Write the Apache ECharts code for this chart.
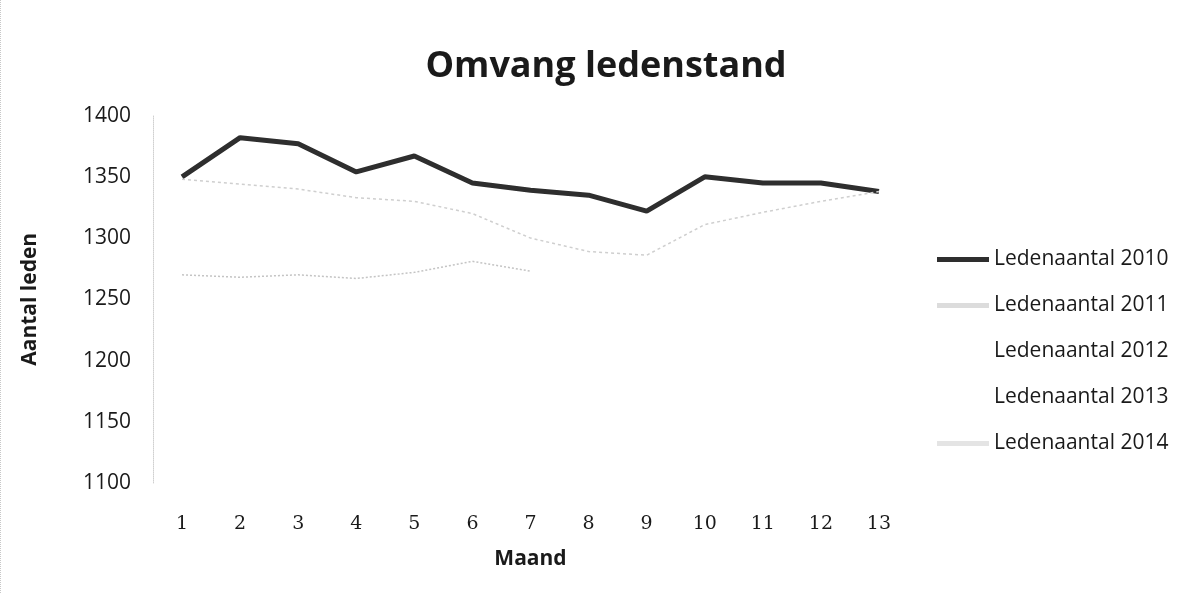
<!DOCTYPE html>
<html>
<head>
<meta charset="utf-8">
<script src="https://cdn.jsdelivr.net/npm/echarts@6/dist/echarts.min.js"></script>
<style>
html,body{margin:0;padding:0;background:#fff;}
#c{width:1202px;height:593px;box-sizing:border-box;border-left:1px dotted #c8c8c8;}
</style>
</head>
<body>
<div id="c"></div>
<script>
var months = ['1','2','3','4','5','6','7','8','9','10','11','12','13'];
var seriesNames = ['Ledenaantal 2010','Ledenaantal 2011','Ledenaantal 2012','Ledenaantal 2013','Ledenaantal 2014'];
var leden2010 = [1350,1382,1377,1354,1367,1345,1339,1335,1322,1350,1345,1345,1338];
var leden2011 = [1348,1344,1340,1333,1330,1320,1300,1289,1286,1311,1321,1330,1338];
var leden2012 = [];
var leden2013 = [];
var leden2014 = [1270,1268,1270,1267,1272,1281,1273];
var yTicks = [1100,1150,1200,1250,1300,1350,1400];

var FONT = '"Open Sans", "DejaVu Sans", sans-serif';
var chart = echarts.init(document.getElementById('c'), null, {renderer:'canvas'});
chart.setOption({
  animation:false,
  backgroundColor:'#ffffff',
  title:{
    text:'Omvang ledenstand', left:600, top:44, textAlign:'center',
    textStyle:{fontFamily:FONT, fontSize:36, fontWeight:'bold', color:'#1a1a1a'}
  },
  grid:{left:152, right:294, top:115.6, bottom:110, containLabel:false},
  legend:{
    orient:'vertical', left:931, top:244, itemWidth:52, itemHeight:5, itemGap:25,
    icon:'rect',
    data:seriesNames,
    textStyle:{fontFamily:FONT, fontSize:21, color:'#1a1a1a'}
  },
  xAxis:{
    type:'category', data:months, boundaryGap:true,
    axisLine:{show:false}, axisTick:{show:false},
    axisLabel:{fontFamily:'"DejaVu Serif", serif', fontSize:19, color:'#1a1a1a', margin:32},
    name:'Maand', nameLocation:'middle', nameGap:66,
    nameTextStyle:{fontFamily:FONT, fontSize:21, fontWeight:'bold', color:'#1a1a1a'}
  },
  yAxis:{
    type:'value', min:yTicks[0], max:yTicks[yTicks.length-1], interval:50,
    axisLine:{show:true, lineStyle:{color:'#d0d0d0', type:'dotted', width:1}},
    axisTick:{show:false}, splitLine:{show:false},
    axisLabel:{fontFamily:FONT, fontSize:21, color:'#1a1a1a', margin:22,
      formatter:function(v){return String(v);}},
    name:'Aantal leden', nameLocation:'middle', nameGap:112, nameRotate:90,
    nameTextStyle:{fontFamily:FONT, fontSize:21, fontWeight:'bold', color:'#1a1a1a'}
  },
  series:[
    {name:seriesNames[0], type:'line', data:leden2010, symbol:'none',
     lineStyle:{color:'#2e2e2e', width:5}, itemStyle:{color:'#2e2e2e'}},
    {name:seriesNames[1], type:'line', data:leden2011, symbol:'none',
     lineStyle:{color:'#cfcfcf', width:1.5, type:[3,3]}, itemStyle:{color:'#dcdcdc'}},
    {name:seriesNames[2], type:'line', data:leden2012, symbol:'none',
     lineStyle:{color:'#ffffff', width:1}, itemStyle:{color:'#ffffff'}},
    {name:seriesNames[3], type:'line', data:leden2013, symbol:'none',
     lineStyle:{color:'#ffffff', width:1}, itemStyle:{color:'#ffffff'}},
    {name:seriesNames[4], type:'line', data:leden2014, symbol:'none',
     lineStyle:{color:'#c4c4c4', width:1.5, type:[2,2]}, itemStyle:{color:'#e4e4e4'}}
  ]
});
</script>
</body>
</html>
